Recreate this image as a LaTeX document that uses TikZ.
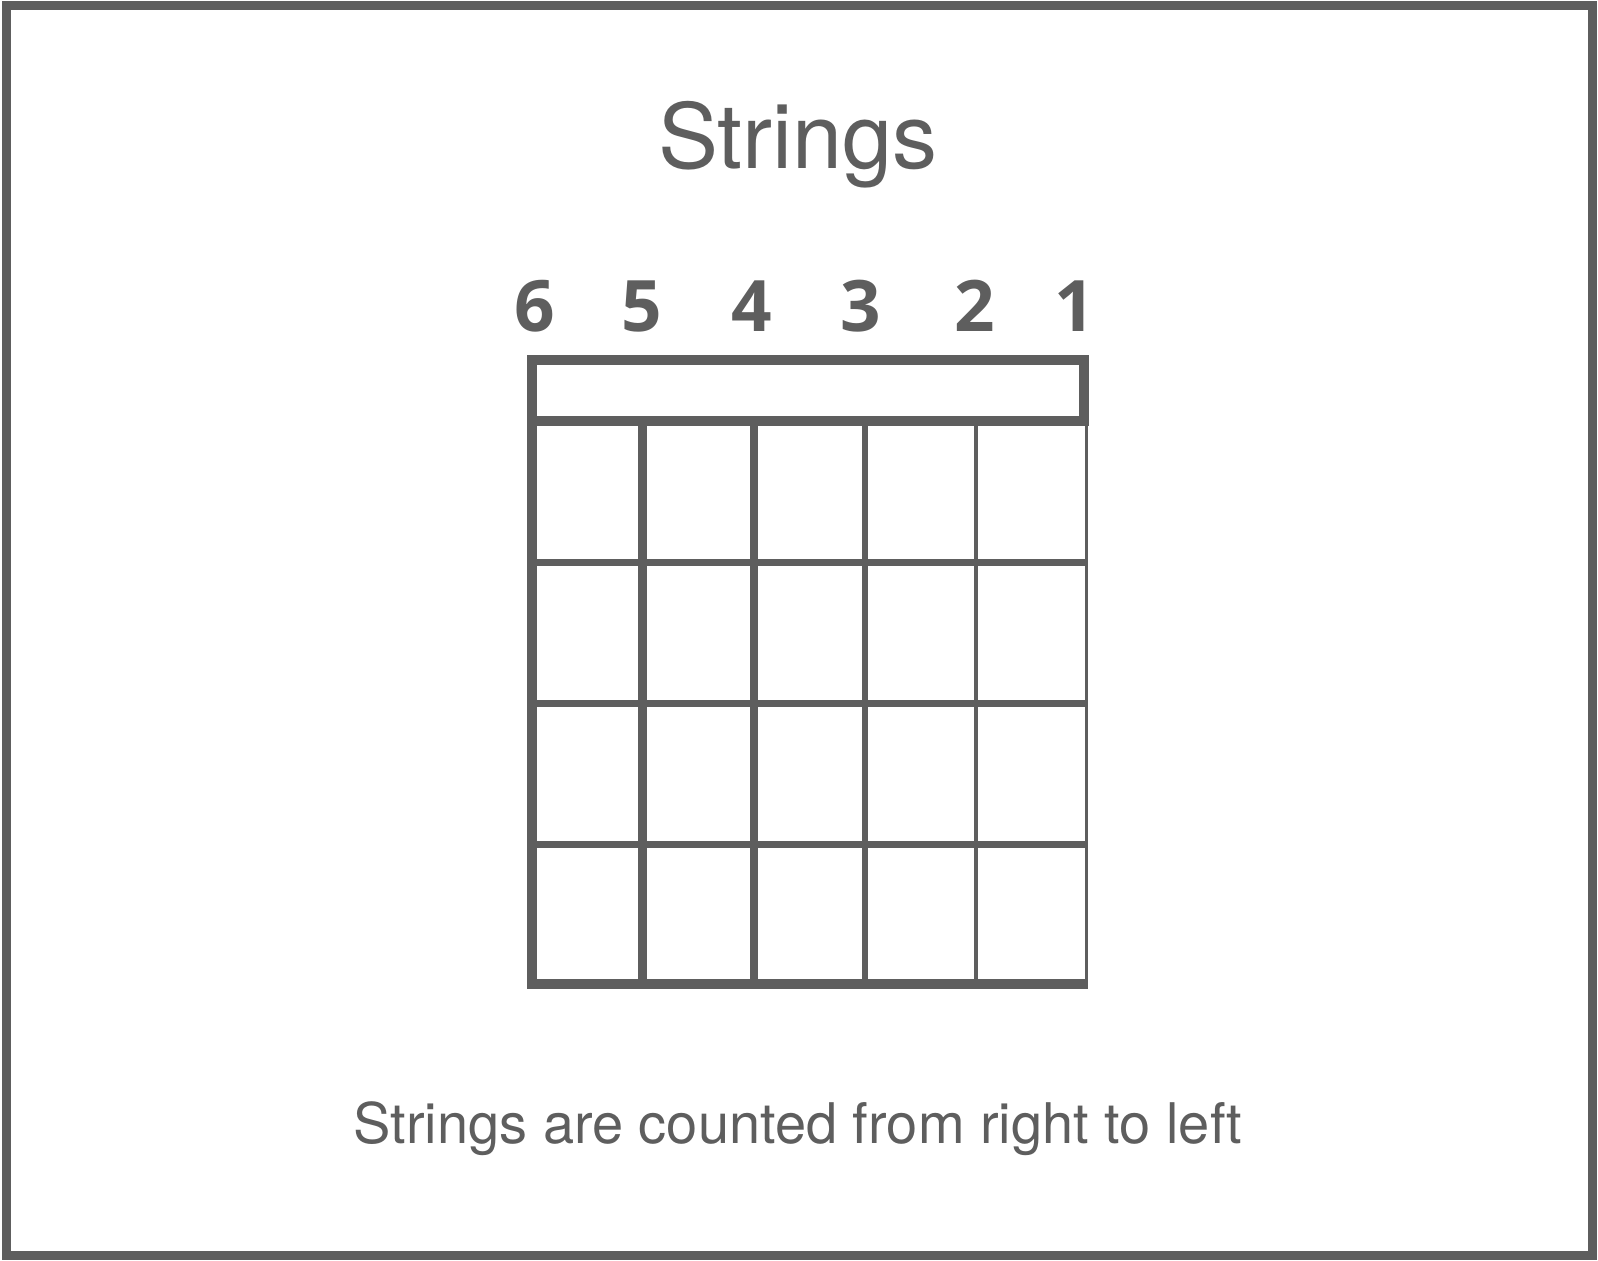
\documentclass[tikz,border=0pt]{standalone}
\usepackage{fontspec}
\setmainfont{TeX Gyre Heros}
\newfontfamily\digitfont{Open Sans}
\usepackage{tikz}
\definecolor{gray1}{RGB}{94,94,94}

\begin{document}
\begin{tikzpicture}[x=0.5pt,y=-0.5pt,color=gray1]
\useasboundingbox (0,0) rectangle (1598,1260);
\draw[line width=4.5pt] (6,5.5) rectangle (1592.5,1255.5);
\node[anchor=base,font=\fontsize{45}{54}\selectfont] (title) at (798,168) {Strings};
\node[anchor=base,font=\fontsize{28}{34}\selectfont] (caption) at (798,1143) {Strings are counted from right to left};

\foreach \x/\n in {535/6,642/5,752/4,861/3,975/2,1075/1}
{
\node[anchor=base,font=\digitfont\bfseries\fontsize{35.5}{40}\selectfont] (num\n) at (\x,331) {\n};
}

% nut
\draw[line width=5pt] (532,359.5) rectangle (1084,421);
% strings, thick to thin
\foreach \i/\w in {0/5,1/4.5,2/3.75,3/3,4/2,5/1.35}
{
\draw[line width=\w pt] (532+110.9*\i,421) -- (532+110.9*\i,984);
}
% frets
\foreach \y in {562,703,844}
{
\draw[line width=3.5pt] (527,\y) -- (1088,\y);
}
\draw[line width=5pt] (527,984) -- (1088,984);
\end{tikzpicture}
\end{document}
